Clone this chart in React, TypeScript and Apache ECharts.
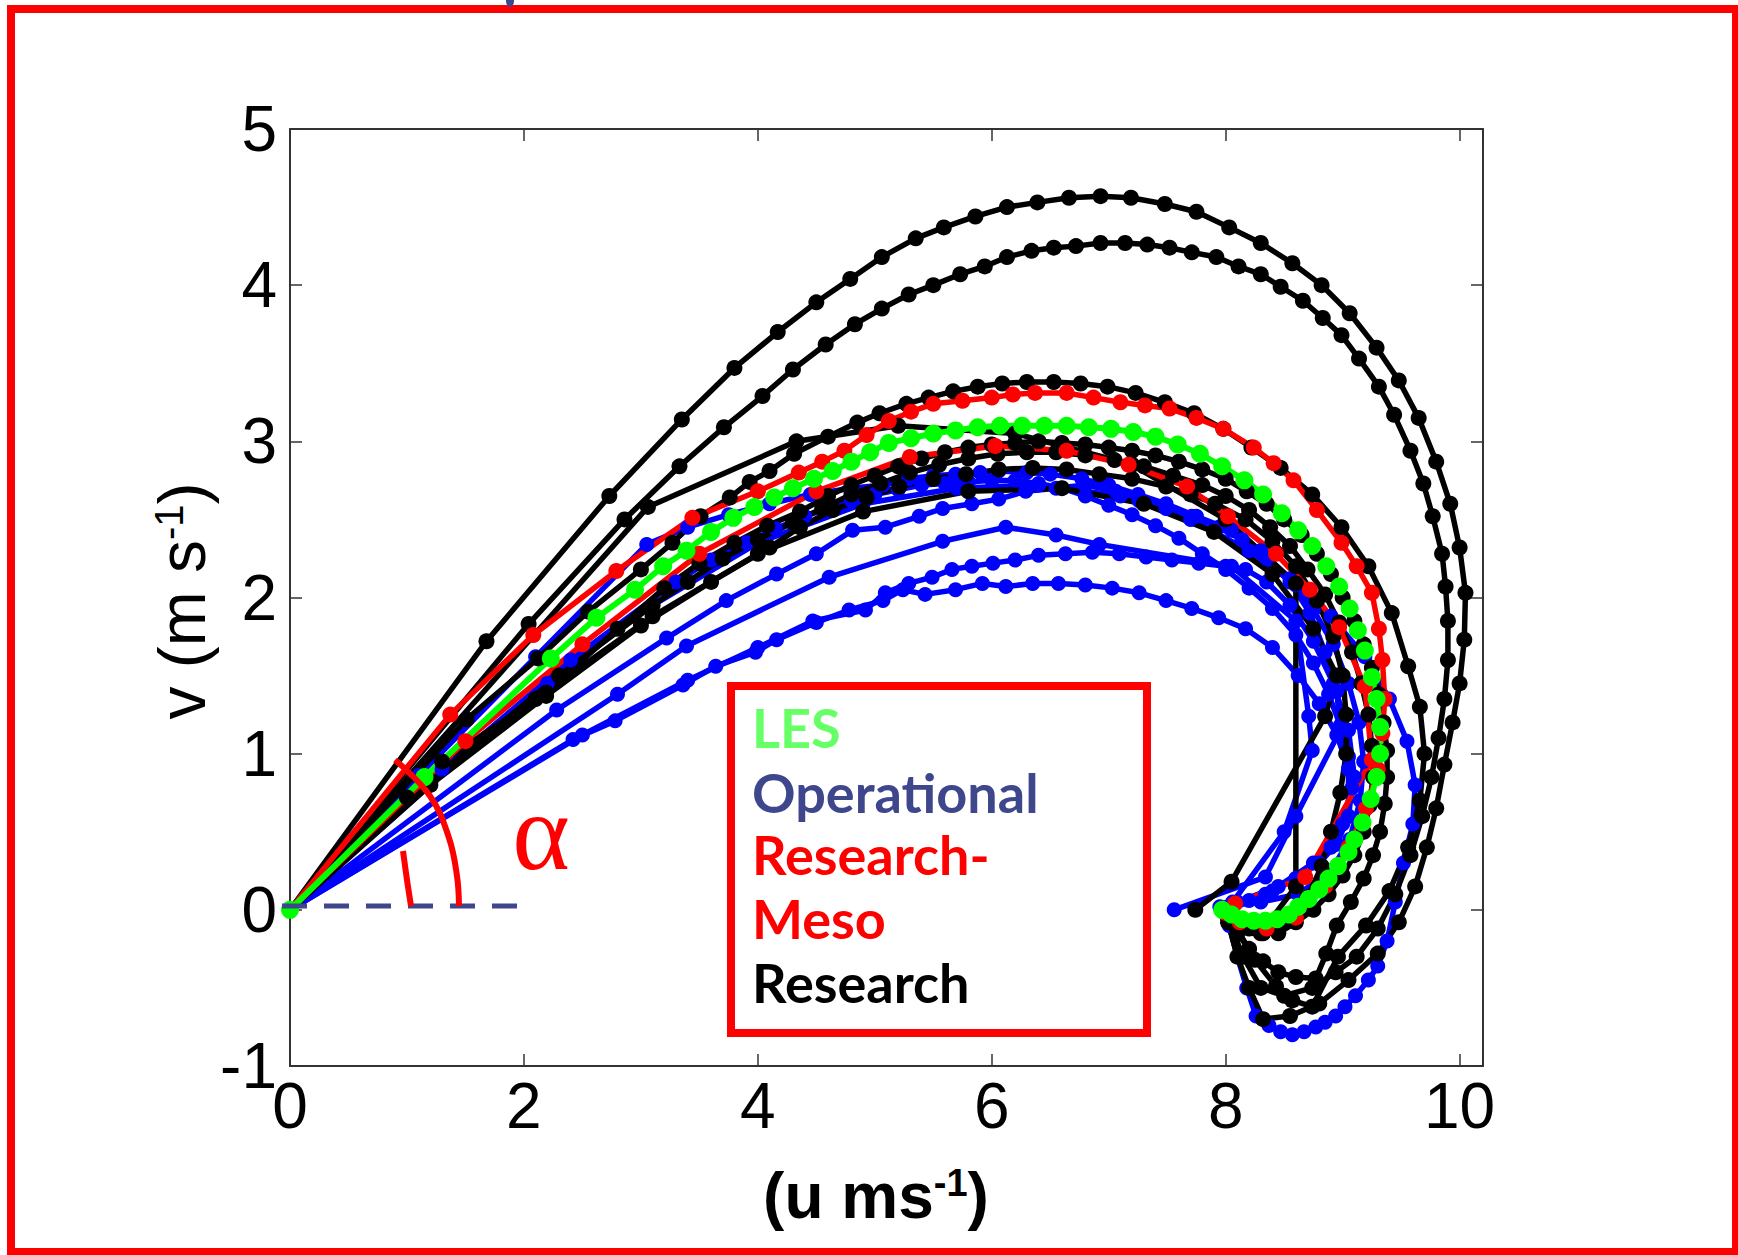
import React, { useEffect, useRef } from "react";
import * as echarts from "echarts";

type P = [number, number];

const xTickLabels = ["0", "2", "4", "6", "8", "10"];
const yTickLabels = ["-1", "0", "1", "2", "3", "4", "5"];
const legendLabels = ["LES", "Operational", "Research-", "Meso", "Research"];

// LES (green)
const les: P[] = [[0,0],[1.15,0.85],[2.23,1.61],[2.62,1.87],[2.95,2.05],[3.19,2.2],[3.39,2.3],[3.6,2.42],[3.79,2.51],[3.97,2.58],[4.14,2.64],[4.3,2.7],[4.48,2.76],[4.64,2.81],[4.8,2.87],[4.96,2.93],[5.12,2.99],[5.31,3.02],[5.5,3.05],[5.69,3.07],[5.88,3.09],[6.07,3.1],[6.26,3.1],[6.45,3.1],[6.64,3.1],[6.83,3.09],[7.02,3.08],[7.21,3.06],[7.4,3.03],[7.59,2.98],[7.78,2.92],[7.97,2.84],[8.16,2.75],[8.32,2.66],[8.48,2.54],[8.62,2.43],[8.74,2.33],[8.86,2.2],[8.97,2.07],[9.06,1.93],[9.13,1.79],[9.19,1.66],[9.25,1.49],[9.29,1.35],[9.32,1.17],[9.32,1.0],[9.29,0.85],[9.24,0.71],[9.17,0.56],[9.1,0.45],[9.05,0.37],[8.96,0.28],[8.88,0.2],[8.8,0.13],[8.71,0.07],[8.62,0.02],[8.54,-0.03],[8.44,-0.06],[8.34,-0.07],[8.24,-0.07],[8.14,-0.06],[8.05,-0.03],[7.97,0.0]];

// Research-Meso (red)
const mesoUpper: P[] = [[0,0],[1.37,1.25],[2.08,1.76],[2.79,2.17],[3.44,2.51],[4.0,2.68],[4.35,2.8],[4.55,2.87],[4.74,2.94],[4.93,3.04],[5.12,3.13],[5.31,3.19],[5.5,3.24],[5.75,3.26],[6.0,3.28],[6.18,3.3],[6.37,3.31],[6.64,3.31],[6.87,3.28],[7.1,3.25],[7.31,3.23],[7.52,3.21],[7.75,3.15],[7.98,3.08],[8.24,2.96],[8.41,2.86],[8.58,2.75],[8.78,2.56],[8.99,2.35],[9.12,2.2],[9.25,2.03],[9.31,1.8],[9.34,1.6],[9.36,1.35],[9.34,1.13],[9.3,0.9],[9.2,0.65],[9.05,0.4],[8.85,0.15],[8.6,-0.05],[8.35,-0.12],[8.12,-0.08],[8.0,-0.02]];
const mesoLower: P[] = [[0,0],[1.5,1.08],[2.5,1.7],[3.5,2.28],[4.5,2.68],[5.3,2.9],[6.03,2.97],[6.64,2.94],[7.17,2.85],[7.67,2.71],[8.02,2.52],[8.43,2.28],[8.72,2.05],[8.97,1.81],[9.19,1.43],[9.25,0.96],[8.68,0.21],[8.08,0.04]];

// Research (black)
const resA: P[] = [[0,0],[1.68,1.72],[2.73,2.65],[3.35,3.14],[3.8,3.47],[4.17,3.7],[4.5,3.89],[4.79,4.04],[5.06,4.18],[5.35,4.3],[5.59,4.37],[5.86,4.44],[6.13,4.5],[6.39,4.53],[6.66,4.56],[6.93,4.57],[7.19,4.56],[7.48,4.52],[7.75,4.47],[8.03,4.37],[8.3,4.27],[8.57,4.14],[8.82,4.0],[9.06,3.82],[9.29,3.6],[9.48,3.39],[9.65,3.15],[9.8,2.87],[9.92,2.6],[10.0,2.32],[10.05,2.03],[10.04,1.73],[10.0,1.45],[9.94,1.2],[9.87,0.93],[9.8,0.65],[9.72,0.4],[9.62,0.15],[9.48,-0.08],[9.3,-0.28],[9.05,-0.45],[8.8,-0.6],[8.55,-0.68],[8.32,-0.7],[8.2,-0.5],[8.1,-0.3],[8.02,-0.08]];
const resB: P[] = [[0,0],[2.04,1.83],[2.86,2.5],[3.33,2.84],[3.71,3.09],[4.04,3.29],[4.3,3.46],[4.58,3.62],[4.83,3.75],[5.06,3.85],[5.29,3.94],[5.5,4.0],[5.73,4.07],[5.94,4.12],[6.13,4.18],[6.34,4.22],[6.53,4.24],[6.72,4.25],[6.93,4.27],[7.14,4.27],[7.33,4.26],[7.52,4.24],[7.71,4.21],[7.92,4.18],[8.11,4.12],[8.3,4.07],[8.47,3.99],[8.66,3.9],[8.83,3.79],[8.99,3.68],[9.14,3.53],[9.31,3.35],[9.44,3.17],[9.58,2.94],[9.69,2.73],[9.77,2.52],[9.85,2.28],[9.88,2.07],[9.9,1.85],[9.9,1.6],[9.87,1.35],[9.82,1.1],[9.76,0.85],[9.68,0.6],[9.58,0.35],[9.45,0.1],[9.3,-0.12],[9.12,-0.3],[8.94,-0.4],[8.74,-0.5],[8.5,-0.55],[8.3,-0.5],[8.15,-0.3],[8.03,-0.08]];
const resC: P[] = [[0,0],[1.51,1.22],[2.12,1.61],[2.55,1.91],[3.0,2.18],[3.27,2.35],[3.51,2.52],[3.76,2.64],[3.93,2.74],[4.1,2.81],[4.31,2.92],[4.6,3.03],[4.85,3.12],[5.04,3.18],[5.27,3.24],[5.46,3.28],[5.67,3.32],[5.88,3.35],[6.09,3.37],[6.3,3.38],[6.53,3.38],[6.76,3.37],[6.99,3.35],[7.23,3.31],[7.48,3.25],[7.73,3.18],[7.98,3.08],[8.22,2.96],[8.47,2.83],[8.74,2.66],[8.99,2.45],[9.22,2.2],[9.42,1.9],[9.56,1.56],[9.66,1.3],[9.7,1.0],[9.66,0.7],[9.56,0.4],[9.4,0.12],[9.2,-0.1],[8.96,-0.3],[8.74,-0.62],[8.57,-0.58],[8.43,-0.49],[8.25,-0.32],[8.08,-0.1]];
const resD: P[] = [[0,0],[1.3,0.95],[2.19,1.39],[2.8,1.8],[3.2,2.06],[3.5,2.22],[3.8,2.35],[4.08,2.46],[4.36,2.55],[4.6,2.65],[4.8,2.72],[5.0,2.78],[5.2,2.84],[5.4,2.89],[5.6,2.93],[5.8,2.96],[6.0,2.98],[6.2,2.99],[6.4,3.0],[6.6,2.99],[6.8,2.98],[7.0,2.96],[7.2,2.94],[7.4,2.91],[7.6,2.87],[7.8,2.82],[8.0,2.76],[8.18,2.68],[8.35,2.6],[8.5,2.5],[8.65,2.4],[8.78,2.28],[8.9,2.15],[9.0,2.0],[9.1,1.85],[9.18,1.7],[9.25,1.55],[9.31,1.38],[9.35,1.2],[9.38,1.02],[9.38,0.85],[9.36,0.68],[9.32,0.5],[9.26,0.35],[9.18,0.2],[9.07,0.05],[8.95,-0.1],[8.86,-0.28],[8.77,-0.44],[8.6,-0.43],[8.45,-0.4],[8.32,-0.33],[8.2,-0.25],[8.1,-0.15],[8.02,-0.05]];
const resE: P[] = [[0,0],[1.2,0.82],[2.3,1.5],[3.1,1.95],[3.4,2.1],[3.7,2.25],[4.0,2.37],[4.3,2.48],[4.55,2.57],[4.8,2.66],[5.05,2.73],[5.3,2.8],[5.55,2.85],[5.8,2.89],[6.05,2.92],[6.3,2.93],[6.55,2.93],[6.8,2.91],[7.05,2.88],[7.3,2.84],[7.55,2.78],[7.8,2.72],[8.0,2.65],[8.2,2.56],[8.38,2.45],[8.55,2.33],[8.7,2.18],[8.85,2.02],[8.97,1.84],[9.08,1.65],[9.16,1.45],[9.22,1.25],[9.25,1.05],[9.26,0.85],[9.23,0.67],[9.18,0.5],[9.1,0.35],[9.0,0.22],[8.88,0.1],[8.75,0.0],[8.6,-0.08],[8.45,-0.15],[8.32,-0.15],[8.2,-0.12],[8.1,-0.07],[8.0,-0.02]];
const resF: P[] = [[0,0],[1.2,0.8],[2.19,1.37],[3.0,1.82],[3.6,2.1],[4.1,2.32],[4.36,2.45],[4.64,2.56],[4.93,2.64],[5.21,2.71],[5.5,2.76],[5.78,2.79],[6.06,2.82],[6.35,2.83],[6.64,2.82],[6.92,2.79],[7.2,2.76],[7.49,2.71],[7.7,2.66],[7.91,2.6],[8.17,2.5],[8.4,2.36],[8.6,2.2],[8.78,1.98],[8.92,1.75],[9.0,1.5],[9.03,1.25],[9.03,1.0],[8.98,0.75],[8.9,0.5],[8.82,0.28],[8.7,0.08],[8.5,-0.08],[8.25,-0.12],[8.02,-0.04]];
const resG: P[] = [[0,0],[1.0,0.72],[2.1,1.35],[3.1,1.88],[4.0,2.28],[4.9,2.55],[5.8,2.68],[6.6,2.7],[7.3,2.6],[7.9,2.42],[8.4,2.15],[8.75,1.8],[8.95,1.5],[8.85,1.24],[8.05,0.18],[7.74,0.0]];
const resH: P[] = [[0,0],[3.06,2.58],[4.33,3.0],[5.2,3.1],[6.2,3.05],[7.2,2.85],[8.0,2.5],[8.6,2.09],[8.6,0.15],[8.3,-0.15],[8.05,-0.05]];

// Operational (blue)
const opA: P[] = [[0,0],[1.1,0.86],[2.1,1.62],[3.05,2.34],[3.4,2.45],[3.75,2.53],[4.1,2.6],[4.45,2.66],[4.8,2.7],[5.07,2.72],[5.29,2.76],[5.5,2.78],[5.69,2.79],[5.9,2.8],[6.06,2.81],[6.3,2.8],[6.5,2.79],[6.77,2.76],[7.0,2.72],[7.25,2.66],[7.49,2.6],[7.75,2.52],[8.05,2.43],[8.3,2.3],[8.55,2.12],[8.75,1.92],[8.92,1.7],[9.05,1.45],[9.14,1.2],[9.18,0.95],[9.15,0.7],[9.06,0.45],[8.9,0.25],[8.62,0.1],[8.3,0.05],[7.95,0.02]];
const opB: P[] = [[0,0],[2.28,1.28],[3.22,1.74],[3.73,1.98],[4.16,2.15],[4.5,2.28],[4.81,2.43],[5.09,2.45],[5.38,2.52],[5.58,2.57],[5.83,2.6],[6.06,2.63],[6.29,2.68],[6.55,2.7],[6.8,2.72],[7.06,2.68],[7.26,2.62],[7.49,2.57],[7.71,2.52],[7.94,2.45],[8.14,2.37],[8.35,2.25],[8.55,2.1],[8.72,1.9],[8.85,1.65],[8.95,1.4],[8.98,1.15],[8.6,0.6],[8.34,0.21],[7.56,0.0]];
const opC: P[] = [[0,0],[2.8,1.38],[3.39,1.69],[4.61,2.13],[5.58,2.36],[6.12,2.45],[6.55,2.4],[6.92,2.34],[8.05,2.2],[8.6,1.85],[8.71,1.24],[8.74,1.02],[8.5,0.5],[8.06,0.05]];
const opD: P[] = [[0,0],[2.5,1.12],[3.4,1.47],[4.0,1.68],[4.47,1.85],[4.92,1.92],[5.09,2.03],[5.29,2.09],[5.49,2.13],[5.66,2.18],[5.83,2.2],[6.01,2.22],[6.2,2.24],[6.4,2.27],[6.63,2.28],[6.86,2.29],[7.09,2.28],[7.32,2.26],[7.54,2.24],[7.77,2.22],[8.0,2.2],[8.17,2.18],[8.35,2.1],[8.55,1.95],[8.75,1.72],[8.92,1.45],[9.05,1.15],[9.1,0.85],[9.0,0.55],[8.75,0.3],[8.45,0.15],[8.1,0.05]];
const opE: P[] = [[0,0],[2.42,1.09],[2.78,1.21],[3.36,1.44],[3.64,1.56],[3.98,1.65],[4.16,1.73],[4.5,1.84],[4.78,1.92],[5.07,1.98],[5.24,2.05],[5.43,2.02],[5.69,2.05],[5.92,2.09],[6.12,2.07],[6.35,2.09],[6.57,2.09],[6.8,2.08],[7.03,2.06],[7.26,2.03],[7.49,1.98],[7.71,1.93],[7.94,1.87],[8.17,1.8],[8.4,1.68],[8.62,1.5],[8.8,1.32],[8.95,1.12],[9.05,0.9],[9.05,0.6],[8.9,0.4],[8.6,0.2],[8.34,0.1],[8.06,0.02]];
const opF: P[] = [[0,0],[1.2,0.8],[2.2,1.45],[3.1,1.95],[4.0,2.35],[4.9,2.6],[5.7,2.7],[6.4,2.72],[7.1,2.65],[7.7,2.5],[8.2,2.3],[8.6,2.08],[8.9,1.88],[9.19,1.62],[9.4,1.35],[9.55,1.08],[9.62,0.8],[9.6,0.55],[9.52,0.3],[9.45,0.05],[9.38,-0.2],[9.3,-0.36],[9.22,-0.45],[9.11,-0.55],[9.02,-0.62],[8.94,-0.68],[8.85,-0.72],[8.77,-0.75],[8.67,-0.78],[8.57,-0.8],[8.47,-0.78],[8.37,-0.74],[8.26,-0.68],[8.18,-0.5],[8.1,-0.3],[8.03,-0.1]];
const opG: P[] = [[0,0],[1.3,0.9],[2.4,1.6],[3.3,2.1],[3.6,2.24],[3.9,2.35],[4.15,2.44],[4.4,2.52],[4.6,2.57],[4.8,2.62],[5.0,2.66],[5.2,2.69],[5.4,2.72],[5.6,2.73],[5.8,2.74],[6.0,2.75],[6.2,2.75],[6.4,2.73],[6.6,2.7],[6.8,2.65],[7.0,2.59],[7.2,2.53],[7.4,2.46],[7.6,2.38],[7.8,2.28],[8.0,2.18],[8.2,2.06],[8.4,1.93],[8.6,1.76],[8.75,1.58],[8.88,1.38],[8.98,1.18],[9.05,0.98],[9.08,0.78],[9.05,0.6],[8.95,0.42],[8.8,0.3],[8.6,0.2],[8.4,0.12],[8.2,0.06],[8.02,0.02]];

const operational = [opA, opB, opC, opD, opE, opF, opG];
const research = [resA, resB, resC, resD, resE, resF, resG, resH];
const meso = [mesoUpper, mesoLower];

const SANS = "'Liberation Sans', Arial, Helvetica, sans-serif";

function lineSeries(name: string, data: P[], color: string, size: number, width: number) {
  return {
    name,
    type: "line",
    data,
    xAxisIndex: 0,
    yAxisIndex: 0,
    symbol: "circle",
    symbolSize: size,
    showSymbol: true,
    itemStyle: { color },
    lineStyle: { color, width },
    emphasis: { disabled: true },
    silent: true,
  };
}

export default function App() {
  const ref = useRef<HTMLDivElement>(null);
  useEffect(() => {
    document.body.style.margin = "0";
    const chart = echarts.init(ref.current!, null, { renderer: "svg" });
    const axisLine = { show: true, onZero: false, lineStyle: { color: "#333", width: 2 } };
    const axisTick = { show: true, inside: true, length: 12, lineStyle: { color: "#333", width: 1.5 } };
    const series: any[] = [];
    operational.forEach((d, i) => series.push(lineSeries("Operational " + i, d, "#0000ff", 15, 5.5)));
    research.forEach((d, i) => series.push(lineSeries("Research " + i, d, "#000000", 16, 5.5)));
    meso.forEach((d, i) => series.push(lineSeries("Research-Meso " + i, d, "#ff0000", 16, 5.5)));
    series.push(lineSeries("LES", les, "#00ff00", 18, 6));

    const legendColors = ["#66ff66", "#3f478c", "#ff0000", "#ff0000", "#000000"];
    const legendY = [727, 792, 854, 918, 982];

    const option: any = {
      animation: false,
      backgroundColor: "#ffffff",
      grid: { left: 290, top: 129, width: 1193, height: 937, containLabel: false },
      xAxis: [
        {
          type: "value", min: 0, max: 10.2, interval: 2, position: "bottom",
          axisLine, axisTick, splitLine: { show: false },
          axisLabel: {
            show: true, fontSize: 64, fontFamily: SANS, color: "#000", margin: 8,
            formatter: (v: number) => {
              const s = String(Math.round(v));
              return Math.abs(v - Math.round(v)) < 1e-6 && xTickLabels.includes(s) ? s : "";
            },
          },
        },
        {
          type: "value", min: 0, max: 10.2, interval: 2, position: "top",
          axisLine, axisTick, splitLine: { show: false }, axisLabel: { show: false },
        },
      ],
      yAxis: [
        {
          type: "value", min: -1, max: 5, interval: 1, position: "left",
          axisLine, axisTick, splitLine: { show: false },
          axisLabel: {
            show: true, fontSize: 64, fontFamily: SANS, color: "#000", margin: 13,
            formatter: (v: number) => {
              const s = String(Math.round(v));
              return yTickLabels.includes(s) ? s : "";
            },
          },
        },
        {
          type: "value", min: -1, max: 5, interval: 1, position: "right",
          axisLine, axisTick, splitLine: { show: false }, axisLabel: { show: false },
        },
      ],
      series,
      graphic: [
        {
          type: "rect", z: 200,
          shape: { x: 11, y: 9, width: 1725, height: 1243 },
          style: { fill: "none", stroke: "#ff0000", lineWidth: 8 },
        },
        {
          type: "ellipse", z: 200,
          shape: { cx: 510, cy: 1, rx: 4, ry: 6 },
          style: { fill: "#3f478c" },
        },
        {
          type: "line", z: 150,
          shape: { x1: 282, y1: 906, x2: 518, y2: 906 },
          style: { stroke: "#3f478c", lineWidth: 5, lineDash: [25, 17] },
        },
        {
          type: "polyline", z: 150,
          shape: { points: [[395, 760], [430, 796], [449, 838], [457, 876], [459, 906]], smooth: 0.4 },
          style: { stroke: "#ff0000", lineWidth: 6, fill: "none" },
        },
        {
          type: "polyline", z: 150,
          shape: { points: [[403, 851], [407, 880], [411, 906]], smooth: 0.3 },
          style: { stroke: "#ff0000", lineWidth: 6, fill: "none" },
        },
        {
          type: "text", z: 150, x: 541, y: 832,
          style: {
            text: "α", fill: "#ff0000", fontSize: 110,
            fontFamily: "'Liberation Serif', 'DejaVu Serif', serif",
            align: "center", verticalAlign: "middle",
          },
        },
        {
          type: "rect", z: 160,
          shape: { x: 731, y: 686, width: 416, height: 347 },
          style: { fill: "#ffffff", stroke: "#ff0000", lineWidth: 8 },
        },
        ...legendLabels.map((t, i) => ({
          type: "text", z: 170, x: 752, y: legendY[i],
          style: {
            text: t, fill: legendColors[i], fontSize: 54, fontWeight: "bold",
            fontFamily: "Lato, 'Noto Sans', sans-serif",
            align: "left", verticalAlign: "middle",
          },
        })),
        {
          type: "text", z: 150, x: 876, y: 1196,
          style: {
            text: "{a|(u ms}{b|-1}{a|)}",
            align: "center", verticalAlign: "middle",
            rich: {
              a: { fontSize: 64, fontWeight: "bold", fontFamily: SANS, fill: "#000", color: "#000" },
              b: { fontSize: 38, fontWeight: "bold", fontFamily: SANS, fill: "#000", color: "#000", verticalAlign: "top" },
            },
          },
        },
        {
          type: "text", z: 150, x: 182, y: 601, rotation: Math.PI / 2,
          style: {
            text: "{a|v (m s}{b|-1}{a|)}",
            align: "center", verticalAlign: "middle",
            rich: {
              a: { fontSize: 66, fontFamily: SANS, fill: "#000", color: "#000" },
              b: { fontSize: 40, fontFamily: SANS, fill: "#000", color: "#000", verticalAlign: "top" },
            },
          },
        },
      ],
    };
    chart.setOption(option);
    return () => chart.dispose();
  }, []);
  return <div ref={ref} style={{ width: 1738, height: 1255, background: "#fff" }} />;
}
